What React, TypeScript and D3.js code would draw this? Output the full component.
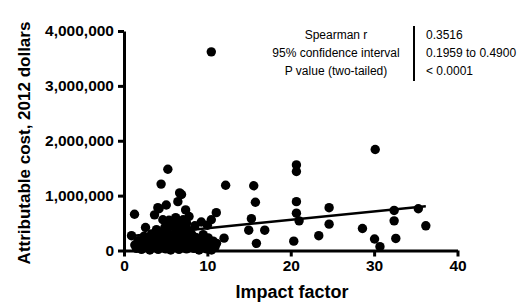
import { useRef, useEffect } from "react";
import { select, scaleLinear, axisBottom, axisLeft, format, line } from "d3";

//data
const impactFactor = [
  10.47, 5.26, 4.45, 12.19, 6.67, 6.9, 6.46, 5.07, 4.06, 4.2, 7.39, 1.26, 3.66,
  11.07, 4.66, 10.47, 9.27, 6.2, 7.8, 5.6, 6.0, 8.5, 2.58, 3.9, 4.9, 7.2, 10.0,
  0.9, 12.0, 5.4, 5.8, 6.4, 6.8, 7.1, 7.5,
  1.3, 1.5, 1.7, 1.9, 2.1, 2.3, 2.4, 2.6, 2.8, 3.0, 3.1, 3.3, 3.4, 3.6, 3.8,
  4.0, 4.1, 4.3, 4.4, 4.6, 4.8, 4.9, 5.0, 5.2, 5.3, 5.5, 5.6, 5.8, 5.9, 6.1,
  6.2, 6.3, 6.5, 6.6, 6.7, 6.9, 7.0, 7.2, 7.3, 7.5, 7.6, 7.7, 7.9, 8.1, 8.2,
  8.4, 8.6, 8.8, 9.0, 9.1, 9.3, 9.5, 9.7, 9.9, 10.1, 10.3, 10.5, 10.7, 10.9,
  11.1,
  15.56, 15.76, 15.28, 14.96, 16.88, 15.88, 20.68, 20.68, 20.68, 20.68, 21.0,
  20.36, 23.36, 24.6, 24.6, 30.13, 28.6, 30.05, 30.7, 32.4, 32.4, 32.6, 35.3,
  36.2,
];

// thousands of dollars
const attributableCost = [
  3620, 1480, 1210, 1190, 1050, 1020, 890, 830, 780, 760, 740, 660, 650,
  690, 560, 560, 520, 600, 620, 480, 520, 450, 420, 380, 420, 450, 460,
  270, 225, 550, 450, 520, 480, 560, 500,
  100, 40, 180, 90, 20, 150, 260, 60, 200, 110, 10, 300, 170, 60, 230,
  120, 20, 330, 190, 80, 250, 140, 30, 350, 200, 100, 10, 280, 160, 60,
  400, 230, 120, 20, 330, 180, 70, 260, 140, 30, 380, 200, 90, 300, 160,
  40, 240, 110, 10, 200, 80, 290, 140, 30, 230, 100, 10, 170, 60,
  130,
  1180, 880, 580, 370, 370, 130, 1560, 1440, 890, 680, 540,
  170, 270, 780, 480, 1840, 400, 210, 70, 730, 540, 220, 760,
  450,
];

const xTicks = [0, 10, 20, 30, 40];
const yTicks = [0, 1000000, 2000000, 3000000, 4000000];

// linear fit shown on the chart
const fitIntercept = 251000;
const fitSlope = 15400;
const fitRange = [0.9, 36.2];

const statLabels = ["Spearman r", "95% confidence interval", "P value (two-tailed)"];
const statValues = ["0.3516", "0.1959 to 0.4900", "< 0.0001"];

const font = "Arial, 'Liberation Sans', Helvetica, sans-serif";

const App = () => {
  const svgRef = useRef<SVGSVGElement>(null);

  const xScale = scaleLinear().domain([0, 40]).range([124, 457.5]);
  const yScale = scaleLinear().domain([0, 4000000]).range([250.5, 31]);

  useEffect(() => {
    const svg = select(svgRef.current);

    //axes
    const xAxis = axisBottom(xScale)
      .tickValues(xTicks)
      .tickSize(6)
      .tickSizeOuter(0)
      .tickPadding(3);
    const gx = svg
      .select<SVGGElement>(".x-axis")
      .attr("transform", `translate(0,${yScale(0)})`)
      .call(xAxis);

    const yAxis = axisLeft(yScale)
      .tickValues(yTicks)
      .tickFormat(format(","))
      .tickSize(6)
      .tickSizeOuter(0)
      .tickPadding(4);
    const gy = svg
      .select<SVGGElement>(".y-axis")
      .attr("transform", `translate(${xScale(0)},0)`)
      .call(yAxis);

    [gx, gy].forEach((g) => {
      g.select(".domain").attr("stroke", "#000").attr("stroke-width", 3);
      g.selectAll(".tick line").attr("stroke", "#000").attr("stroke-width", 3);
      g.selectAll(".tick text")
        .attr("fill", "#000")
        .style("font-family", font)
        .style("font-weight", "bold")
        .style("font-size", "15.5px");
    });
    gx.selectAll(".tick text").attr("dy", "0.75em");
  }, []);

  const fitLine = line<number>()
    .x((d) => xScale(d))
    .y((d) => yScale(fitIntercept + fitSlope * d));

  return (
    <svg
      ref={svgRef}
      width={517}
      height={304}
      style={{ position: "absolute", left: 0, top: 0, background: "#fff" }}
    >
      <g>
        {impactFactor.map((x, i) => (
          <circle
            key={i}
            cx={xScale(x)}
            cy={yScale(attributableCost[i] * 1000)}
            r={4.7}
            fill="#000"
          />
        ))}
      </g>
      <path d={fitLine(fitRange) ?? ""} fill="none" stroke="#000" strokeWidth={2.5} />
      <g className="x-axis" />
      <g className="y-axis" />

      <text
        transform="translate(30,143) rotate(-90)"
        textAnchor="middle"
        fontFamily={font}
        fontWeight="bold"
        fontSize={17}
      >
        Attributable cost, 2012 dollars
      </text>
      <text
        x={292}
        y={298}
        textAnchor="middle"
        fontFamily={font}
        fontWeight="bold"
        fontSize={18}
      >
        Impact factor
      </text>

      {statLabels.map((s, i) => (
        <text
          key={s}
          x={336}
          y={39 + i * 18}
          textAnchor="middle"
          fontFamily={font}
          fontSize={12}
        >
          {s}
        </text>
      ))}
      <line x1={414} x2={414} y1={26} y2={81} stroke="#000" strokeWidth={2} />
      {statValues.map((s, i) => (
        <text key={s} x={426} y={39 + i * 18} fontFamily={font} fontSize={12}>
          {s}
        </text>
      ))}
    </svg>
  );
};

export default App;
